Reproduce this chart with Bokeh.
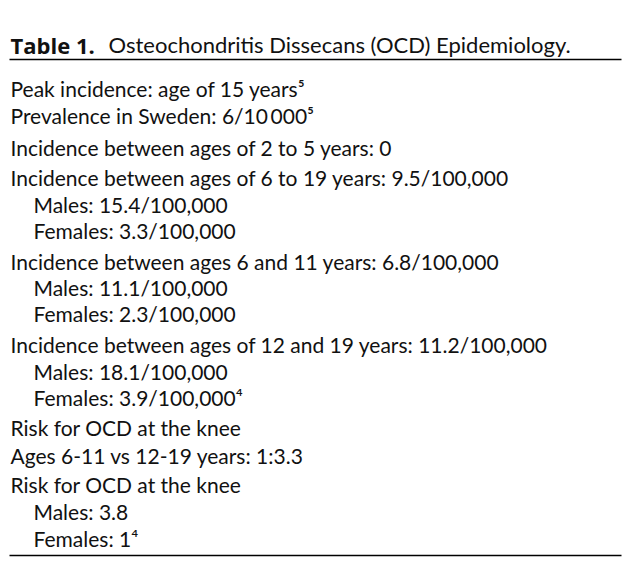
from bokeh.plotting import figure
from bokeh.models import ColumnDataSource, Range1d
from bokeh.core.properties import value
from bokeh.embed import file_html
from bokeh.resources import INLINE

title_bold = "Table 1."
title_rest = "Osteochondritis Dissecans (OCD) Epidemiology."

rows = [
    "Peak incidence: age of 15 years\u2075",
    "Prevalence in Sweden: 6/10\u2009000\u2075",
    "Incidence between ages of 2 to 5 years: 0",
    "Incidence between ages of 6 to 19 years: 9.5/100,000",
    "Males: 15.4/100,000",
    "Females: 3.3/100,000",
    "Incidence between ages 6 and 11 years: 6.8/100,000",
    "Males: 11.1/100,000",
    "Females: 2.3/100,000",
    "Incidence between ages of 12 and 19 years: 11.2/100,000",
    "Males: 18.1/100,000",
    "Females: 3.9/100,000\u2074",
    "Risk for OCD at the knee",
    "Ages 6-11 vs 12-19 years: 1:3.3",
    "Risk for OCD at the knee",
    "Males: 3.8",
    "Females: 1\u2074",
]
indent = [0, 0, 0, 0, 1, 1, 0, 1, 1, 0, 1, 1, 0, 0, 0, 1, 1]
row_baseline = [88, 115, 147, 177, 204, 230, 261, 287, 313, 344, 371, 397, 427, 455, 484, 511, 538]

W, H = 627, 566
FONT = "Lato"

p = figure(width=W, height=H, output_backend="svg", toolbar_location=None,
           x_range=Range1d(0, W), y_range=Range1d(H, 0), min_border=0)
p.axis.visible = False
p.grid.visible = False
p.outline_line_color = None
p.background_fill_color = "white"
p.border_fill_color = "white"

# title
p.text(x=[10], y=[44], text=[title_bold], text_font=value("Open Sans"),
       text_font_size="22px", text_font_style="bold", text_baseline="alphabetic",
       text_align="left", text_color="#111111")
p.text(x=[108], y=[44], text=[title_rest], text_font=value(FONT),
       text_font_size="22px", text_baseline="alphabetic", text_align="left",
       text_color="#111111")

# rules
p.segment(x0=[9, 9], x1=[621, 621], y0=[59, 555], y1=[59, 555],
          line_color="black", line_width=1.3)

src = ColumnDataSource(dict(
    x=[10 + 23 * i for i in indent],
    y=row_baseline,
    text=rows,
))
p.text(x="x", y="y", text="text", source=src, text_font=value(FONT), text_font_size="21px",
       text_baseline="alphabetic", text_align="left", text_color="#111111")

open("out.html", "w").write(file_html(p, INLINE))
